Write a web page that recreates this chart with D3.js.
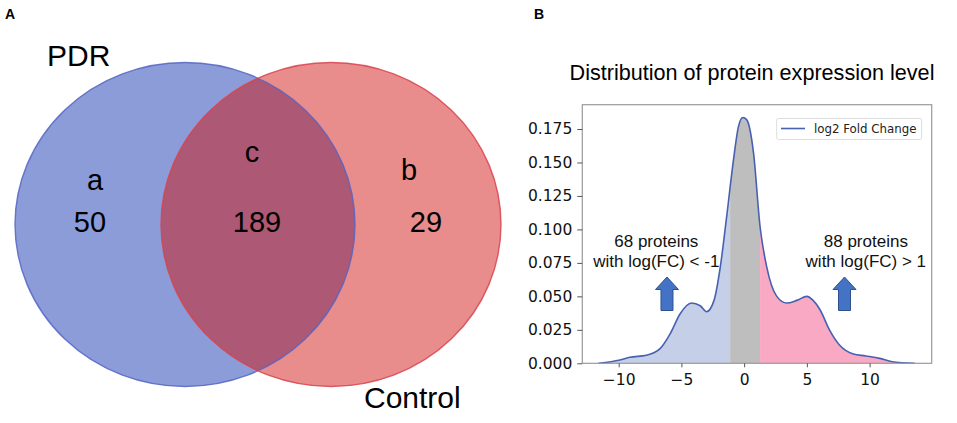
<!DOCTYPE html>
<html>
<head>
<meta charset="utf-8">
<script src="https://cdn.jsdelivr.net/npm/d3@7"></script>
<style>
  body { margin: 0; background: #fff; }
  svg { display: block; }
</style>
</head>
<body>
<div id="chart"></div>
<script>
// ---- data ----
var setNames = ["PDR", "Control"];
var regionLetters = ["a", "c", "b"];
var regionCounts = [50, 189, 29];

var fcX = [-11.6, -9.9, -9.1, -7.8, -6.7, -5.9, -5.1, -4.2, -3.5, -3.0, -2.4, -1.9, -1.4, -0.85, -0.45, -0.1, 0.2, 0.75, 1.27, 1.8, 2.6, 3.4, 4.2, 5.0, 5.5, 6.05, 6.8, 7.6, 8.7, 9.7, 10.8, 11.8, 13.6];
var fcY = [0, 0.0025, 0.0045, 0.006, 0.011, 0.022, 0.037, 0.045, 0.043, 0.0385, 0.047, 0.072, 0.109, 0.152, 0.177, 0.1836, 0.182, 0.157, 0.102, 0.072, 0.05, 0.045, 0.047, 0.05, 0.047, 0.04, 0.025, 0.0137, 0.007, 0.0055, 0.0037, 0.0012, 0];
var cutLow = -1.12, cutHigh = 1.27;
var xTicks = [-10, -5, 0, 5, 10];
var yTicks = [0, 0.025, 0.05, 0.075, 0.1, 0.125, 0.15, 0.175];
var notes = [
  {x: -7.0, lines: ["68 proteins", "with log(FC) < -1"], arrowX: -6.15},
  {x: 9.7, lines: ["88 proteins", "with log(FC) > 1"], arrowX: 8.0}
];

var w = 957, h = 423;
var svg = d3.select("#chart").append("svg")
    .attr("width", w)
    .attr("height", h);

var sans = "'Liberation Sans', Arial, sans-serif";
var dejavu = "'DejaVu Sans', sans-serif";

// ---- panel A: venn ----
svg.append("text").attr("x", 5).attr("y", 19).text("A")
    .attr("font-family", sans).attr("font-weight", "bold").attr("font-size", 14);

var ry = 162, rx = 170;
var cxs = [185, 331], cy = 224.5;

var defs = svg.append("defs");
defs.append("clipPath").attr("id", "blueClip")
  .append("ellipse").attr("cx", cxs[0]).attr("cy", cy).attr("rx", rx).attr("ry", ry);

var venn = svg.append("g");
venn.append("ellipse").attr("cx", cxs[0]).attr("cy", cy).attr("rx", rx).attr("ry", ry)
    .attr("fill", "#8b9cd9");
venn.append("ellipse").attr("cx", cxs[1]).attr("cy", cy).attr("rx", rx).attr("ry", ry)
    .attr("fill", "#e98c8c");
venn.append("ellipse").attr("cx", cxs[1]).attr("cy", cy).attr("rx", rx).attr("ry", ry)
    .attr("clip-path", "url(#blueClip)")
    .attr("fill", "#ad5874");
venn.append("ellipse").attr("cx", cxs[0]).attr("cy", cy).attr("rx", rx).attr("ry", ry)
    .attr("fill", "none").attr("stroke", "#5565c4").attr("stroke-opacity", 0.85).attr("stroke-width", 1.4);
venn.append("ellipse").attr("cx", cxs[1]).attr("cy", cy).attr("rx", rx).attr("ry", ry)
    .attr("fill", "none").attr("stroke", "#d8434f").attr("stroke-opacity", 0.85).attr("stroke-width", 1.4);

venn.append("text").attr("x", 47).attr("y", 66).text(setNames[0])
    .attr("font-family", sans).attr("font-size", 30);
venn.append("text").attr("x", 364).attr("y", 408).text(setNames[1])
    .attr("font-family", sans).attr("font-size", 30);

var letterPos = [[95, 190], [252, 162], [409, 180]];
var countPos = [[90, 232], [257, 232], [426, 232]];
venn.selectAll(".letter").data(regionLetters).enter().append("text")
    .attr("class", "letter")
    .attr("x", function(d, i) { return letterPos[i][0]; })
    .attr("y", function(d, i) { return letterPos[i][1]; })
    .attr("text-anchor", "middle")
    .attr("font-family", sans).attr("font-size", 29)
    .text(function(d) { return d; });
venn.selectAll(".count").data(regionCounts).enter().append("text")
    .attr("class", "count")
    .attr("x", function(d, i) { return countPos[i][0]; })
    .attr("y", function(d, i) { return countPos[i][1]; })
    .attr("text-anchor", "middle")
    .attr("font-family", sans).attr("font-size", 29)
    .text(function(d) { return d; });

// ---- panel B: density ----
svg.append("text").attr("x", 534).attr("y", 19).text("B")
    .attr("font-family", sans).attr("font-weight", "bold").attr("font-size", 14);

var pLeft = 582.3, pRight = 931.7, pTop = 104.7, pBottom = 363.3;

var x = d3.scaleLinear().domain([-12.9, 14.95]).range([pLeft, pRight]);
var y = d3.scaleLinear().domain([0, 0.175]).range([pBottom, 129]);

svg.append("text").attr("x", 752).attr("y", 80)
    .attr("text-anchor", "middle")
    .attr("font-family", sans).attr("font-size", 21.6)
    .text("Distribution of protein expression level");

var pts = fcX.map(function(d, i) { return [d, fcY[i]]; });

var area = d3.area()
    .x(function(d) { return x(d[0]); })
    .y0(pBottom)
    .y1(function(d) { return y(d[1]); })
    .curve(d3.curveMonotoneX);

var line = d3.line()
    .x(function(d) { return x(d[0]); })
    .y(function(d) { return y(d[1]); })
    .curve(d3.curveMonotoneX);

var bands = [
  {from: -20, to: cutLow, color: "#c5cfe7"},
  {from: cutLow, to: cutHigh, color: "#bebebe"},
  {from: cutHigh, to: 20, color: "#f9a9c4"}
];

bands.forEach(function(b, i) {
  var x0 = Math.max(x(b.from), pLeft), x1 = Math.min(x(b.to), pRight);
  defs.append("clipPath").attr("id", "band" + i)
    .append("rect").attr("x", x0).attr("y", pTop).attr("width", x1 - x0).attr("height", pBottom - pTop);
  svg.append("path").datum(pts)
    .attr("d", area)
    .attr("fill", b.color)
    .attr("clip-path", "url(#band" + i + ")");
});

svg.append("path").datum(pts)
    .attr("d", line)
    .attr("fill", "none")
    .attr("stroke", "#4761b0")
    .attr("stroke-width", 1.6);

// frame
svg.append("rect").attr("x", pLeft).attr("y", pTop)
    .attr("width", pRight - pLeft).attr("height", pBottom - pTop)
    .attr("fill", "none").attr("stroke", "#9a9a9a").attr("stroke-width", 1.2);

// axes
var xAxis = svg.append("g").attr("transform", "translate(0," + pBottom + ")")
    .call(d3.axisBottom(x).tickValues(xTicks).tickSize(4).tickPadding(7)
      .tickFormat(function(d) { return d < 0 ? "\u2212" + Math.abs(d) : d; }));
var yAxis = svg.append("g").attr("transform", "translate(" + pLeft + ",0)")
    .call(d3.axisLeft(y).tickValues(yTicks).tickSize(5).tickPadding(5).tickFormat(d3.format(".3f")));

[xAxis, yAxis].forEach(function(a) {
  a.select(".domain").remove();
  a.selectAll("line").attr("stroke", "#555");
  a.selectAll("text").attr("font-family", dejavu).attr("font-size", 15.5).attr("fill", "#111");
});

// legend
var lg = svg.append("g");
lg.append("rect").attr("x", 776.7).attr("y", 118.5).attr("width", 145).attr("height", 21)
    .attr("fill", "#fff").attr("stroke", "#ddd").attr("rx", 2);
lg.append("line").attr("x1", 781).attr("x2", 805).attr("y1", 128.5).attr("y2", 128.5)
    .attr("stroke", "#4761b0").attr("stroke-width", 1.6);
lg.append("text").attr("x", 814).attr("y", 132.5).text("log2 Fold Change")
    .attr("font-family", dejavu).attr("font-size", 11.8).attr("fill", "#222");

// annotations
notes.forEach(function(n) {
  var g = svg.append("g");
  n.lines.forEach(function(t, i) {
    g.append("text").attr("x", x(n.x)).attr("y", 247 + i * 20)
      .attr("text-anchor", "middle")
      .attr("font-family", sans).attr("font-size", 17).attr("fill", "#111")
      .text(t);
  });
  var ax = x(n.arrowX);
  var tipY = 277, headY = 289.5, baseY = 310.5, hw = 11.5, sw = 6;
  g.append("path")
    .attr("d", "M" + ax + "," + tipY +
      "L" + (ax + hw) + "," + headY +
      "L" + (ax + sw) + "," + headY +
      "L" + (ax + sw) + "," + baseY +
      "L" + (ax - sw) + "," + baseY +
      "L" + (ax - sw) + "," + headY +
      "L" + (ax - hw) + "," + headY + "Z")
    .attr("fill", "#4472c4").attr("stroke", "#2f528f").attr("stroke-width", 1);
});
</script>
</body>
</html>
